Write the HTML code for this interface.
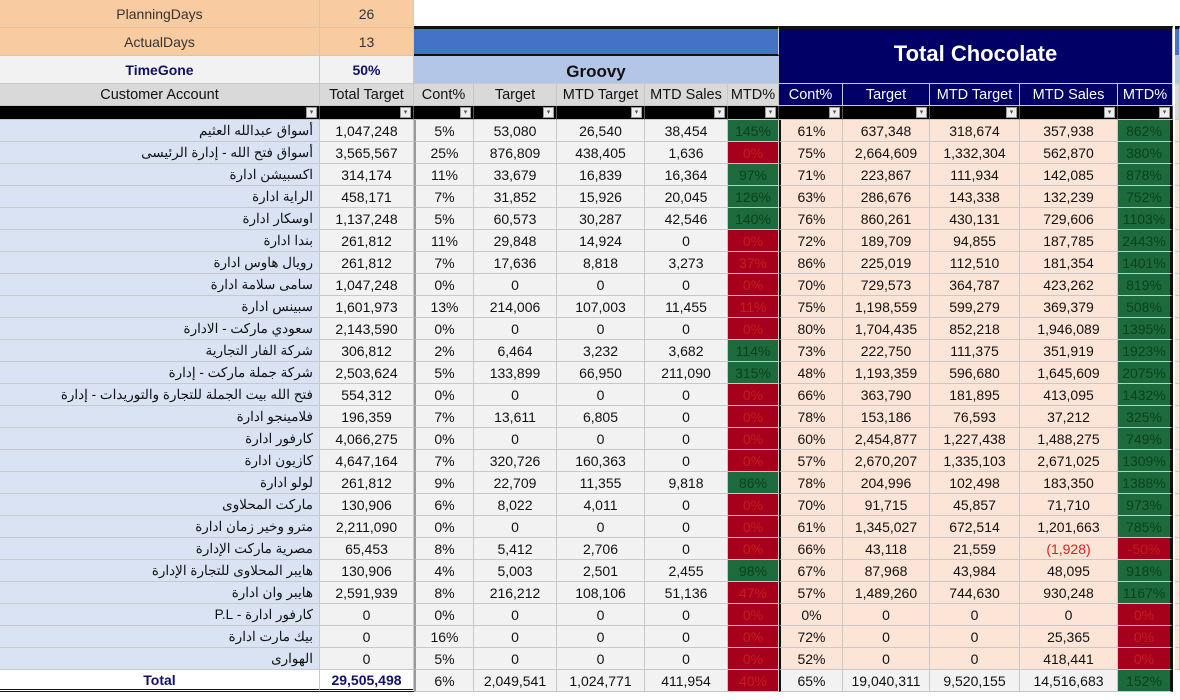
<!DOCTYPE html>
<html><head><meta charset="utf-8"><style>
body{margin:0;width:1180px;height:700px;overflow:hidden;background:#fff;font-family:"Liberation Sans","Noto Sans CJK SC",sans-serif;}
#sheet{position:relative;width:1180px;height:700px;}
.c{position:absolute;box-sizing:border-box;display:flex;align-items:center;justify-content:center;font-size:14px;color:#111;white-space:nowrap;overflow:hidden;border-right:1px solid #c8c8c8;border-bottom:1px solid #c8c8c8;}
</style></head><body>
<div id="sheet"></div>
<script>
const names=["أسواق عبدالله العثيم","أسواق فتح الله - إدارة الرئيسى","اكسبيشن ادارة","الراية ادارة","اوسكار ادارة","بندا ادارة","رويال هاوس ادارة","سامى سلامة ادارة","سبينس ادارة","سعودي ماركت - الادارة","شركة الفار التجارية","شركة جملة ماركت - إدارة","فتح الله بيت الجملة للتجارة والتوريدات - إدارة","فلامينجو ادارة","كارفور ادارة","كازيون ادارة","لولو ادارة","ماركت المحلاوى","مترو وخير زمان ادارة","مصرية ماركت الإدارة","هايبر المحلاوى للتجارة الإدارة","هايبر وان ادارة","كارفور ادارة - P.L","بيك مارت ادارة","الهوارى"];
const totalTarget=["1,047,248","3,565,567","314,174","458,171","1,137,248","261,812","261,812","1,047,248","1,601,973","2,143,590","306,812","2,503,624","554,312","196,359","4,066,275","4,647,164","261,812","130,906","2,211,090","65,453","130,906","2,591,939","0","0","0"];
const gCont=[5,25,11,7,5,11,7,0,13,0,2,5,0,7,0,7,9,6,0,8,4,8,0,16,5];
const gTarget=["53,080","876,809","33,679","31,852","60,573","29,848","17,636","0","214,006","0","6,464","133,899","0","13,611","0","320,726","22,709","8,022","0","5,412","5,003","216,212","0","0","0"];
const gMtdTarget=["26,540","438,405","16,839","15,926","30,287","14,924","8,818","0","107,003","0","3,232","66,950","0","6,805","0","160,363","11,355","4,011","0","2,706","2,501","108,106","0","0","0"];
const gSales=["38,454","1,636","16,364","20,045","42,546","0","3,273","0","11,455","0","3,682","211,090","0","0","0","0","9,818","0","0","0","2,455","51,136","0","0","0"];
const gPct=[145,0,97,126,140,0,37,0,11,0,114,315,0,0,0,0,86,0,0,0,98,47,0,0,0];
const cCont=[61,75,71,63,76,72,86,70,75,80,73,48,66,78,60,57,78,70,61,66,67,57,0,72,52];
const cTarget=["637,348","2,664,609","223,867","286,676","860,261","189,709","225,019","729,573","1,198,559","1,704,435","222,750","1,193,359","363,790","153,186","2,454,877","2,670,207","204,996","91,715","1,345,027","43,118","87,968","1,489,260","0","0","0"];
const cMtdTarget=["318,674","1,332,304","111,934","143,338","430,131","94,855","112,510","364,787","599,279","852,218","111,375","596,680","181,895","76,593","1,227,438","1,335,103","102,498","45,857","672,514","21,559","43,984","744,630","0","0","0"];
const cSales=["357,938","562,870","142,085","132,239","729,606","187,785","181,354","423,262","369,379","1,946,089","351,919","1,645,609","413,095","37,212","1,488,275","2,671,025","183,350","71,710","1,201,663","(1,928)","48,095","930,248","0","25,365","418,441"];
const cPct=[862,380,878,752,1103,2443,1401,819,508,1395,1923,2075,1432,325,749,1309,1388,973,785,-50,918,1167,0,0,0];
const totals=["29,505,498","6%","2,049,541","1,024,771","411,954",40,"65%","19,040,311","9,520,155","14,516,683",152];

const X=[0,320,414,474,557,645,728,779,843,930,1020,1118,1173,1180];
const S=document.getElementById('sheet');
function cell(x,y,w,h,txt,st){const d=document.createElement('div');d.className='c';
d.style.left=x+'px';d.style.top=y+'px';d.style.width=w+'px';d.style.height=h+'px';
if(st)Object.assign(d.style,st);d.textContent=txt;S.appendChild(d);return d;}
function col(i,y,h,txt,st){return cell(X[i],y,X[i+1]-X[i],h,txt,st);}
const GREEN='#1d6b3c',GT='#0a4020',RED='#a5001c',RT='#cc1a1f';
function pctStyle(v){return v>=50?{background:GREEN,color:GT}:{background:RED,color:RT};}

let e;
e=col(0,0,28,'PlanningDays',{background:'#f8cba0',color:'#333'});
e=col(1,0,28,'26',{background:'#f8cba0',color:'#333'});
e=col(0,28,28,'ActualDays',{background:'#f8cba0',color:'#333'});
e=col(1,28,28,'13',{background:'#f8cba0',color:'#333'});
e=col(0,56,28,'TimeGone',{background:'#f2f2f2',color:'#10106a',fontWeight:'bold'});
e=col(1,56,28,'50%',{background:'#f2f2f2',color:'#10106a',fontWeight:'bold'});
e=cell(414,26,365,30,'',{background:'#4472c4',borderTop:'3px solid #111',borderBottom:'2px solid #111'});
e=cell(414,56,365,28,'Groovy',{background:'#b4c6e7',fontWeight:'bold',fontSize:'17px',alignItems:'flex-end',paddingBottom:'1px'});
e=cell(779,26,394,58,'Total Chocolate',{background:'#000066',color:'#fff',fontWeight:'bold',fontSize:'22px',borderTop:'3px solid #111',paddingBottom:'4px'});
e=cell(1175,26,5,30,'',{background:'#4472c4',borderTop:'3px solid #111'});
e=cell(1175,56,5,28,'',{background:'#b4c6e7'});

const heads=["Customer Account","Total Target","Cont%","Target","MTD Target","MTD Sales","MTD%","Cont%","Target","MTD Target","MTD Sales","MTD%"];
for(let i=0;i<12;i++){
  const navy=i>=7;
  e=col(i,84,22,heads[i],{background:navy?'#000066':'#d9d9d9',color:navy?'#fff':'#111',fontSize:'14.5px'});
  
  const f=col(i,106,14,'',{background:'#000',borderRight:'1px solid #555'});
  
  const b=document.createElement('div');
  b.style.cssText='position:absolute;right:2px;top:1px;width:11px;height:11px;background:#eee;border:1px solid #999;box-sizing:border-box;font-size:7px;line-height:9px;text-align:center;color:#555';
  b.textContent='▾';
  
  
  f.appendChild(b);
}
e=cell(1175,84,5,36,'',{background:'#d9d9d9'});

for(let r=0;r<names.length;r++){
  const y=120+22*r,h=22;
  const vals=[names[r],totalTarget[r],gCont[r]+'%',gTarget[r],gMtdTarget[r],gSales[r],gPct[r]+'%',cCont[r]+'%',cTarget[r],cMtdTarget[r],cSales[r],cPct[r]+'%'];
  for(let i=0;i<12;i++){
    let st={background:'#f2f2f2'};
    if(i===0)st={background:'#dae3f3',justifyContent:'flex-start',paddingRight:'6px',direction:'rtl',fontSize:'13.5px'};
    if(i===6)st=pctStyle(gPct[r]);
    if(i>=7&&i<=10)st={background:'#fce4d6'};
    if(i===10&&cSales[r].startsWith('('))st.color='#e02020';
    if(i===11)st=Object.assign(pctStyle(cPct[r]),{borderRight:'3px solid #111'});
    if(i===7)st.borderLeft='2px solid #111';
    if(i===2)st.borderLeft='2px solid #999';
    const c=col(i,y,h,vals[i],st);
    
    
  }
  e=cell(1175,y,5,h,'',{background:'#fce4d6'});
}
const ty=670;
e=col(0,ty,22,'Total',{background:'#fff',color:'#10106a',fontWeight:'bold',borderBottom:'3px double #111'});
for(let i=1;i<12;i++){
  const v=totals[i-1];
  let st={background:'#f2f2f2'};
  if(i===1)st={background:'#fff',color:'#10106a',fontWeight:'bold',borderBottom:'3px double #111'};
  if(i===6)st=pctStyle(v);
  if(i===11)st=Object.assign(pctStyle(v),{borderRight:'3px solid #111'});
  if(i===7)st.borderLeft='2px solid #111';
  if(i===2)st.borderLeft='2px solid #999';
  const c=col(i,ty,22,typeof v==='number'?v+'%':v,st);
  
  
}
</script>
</body></html>
